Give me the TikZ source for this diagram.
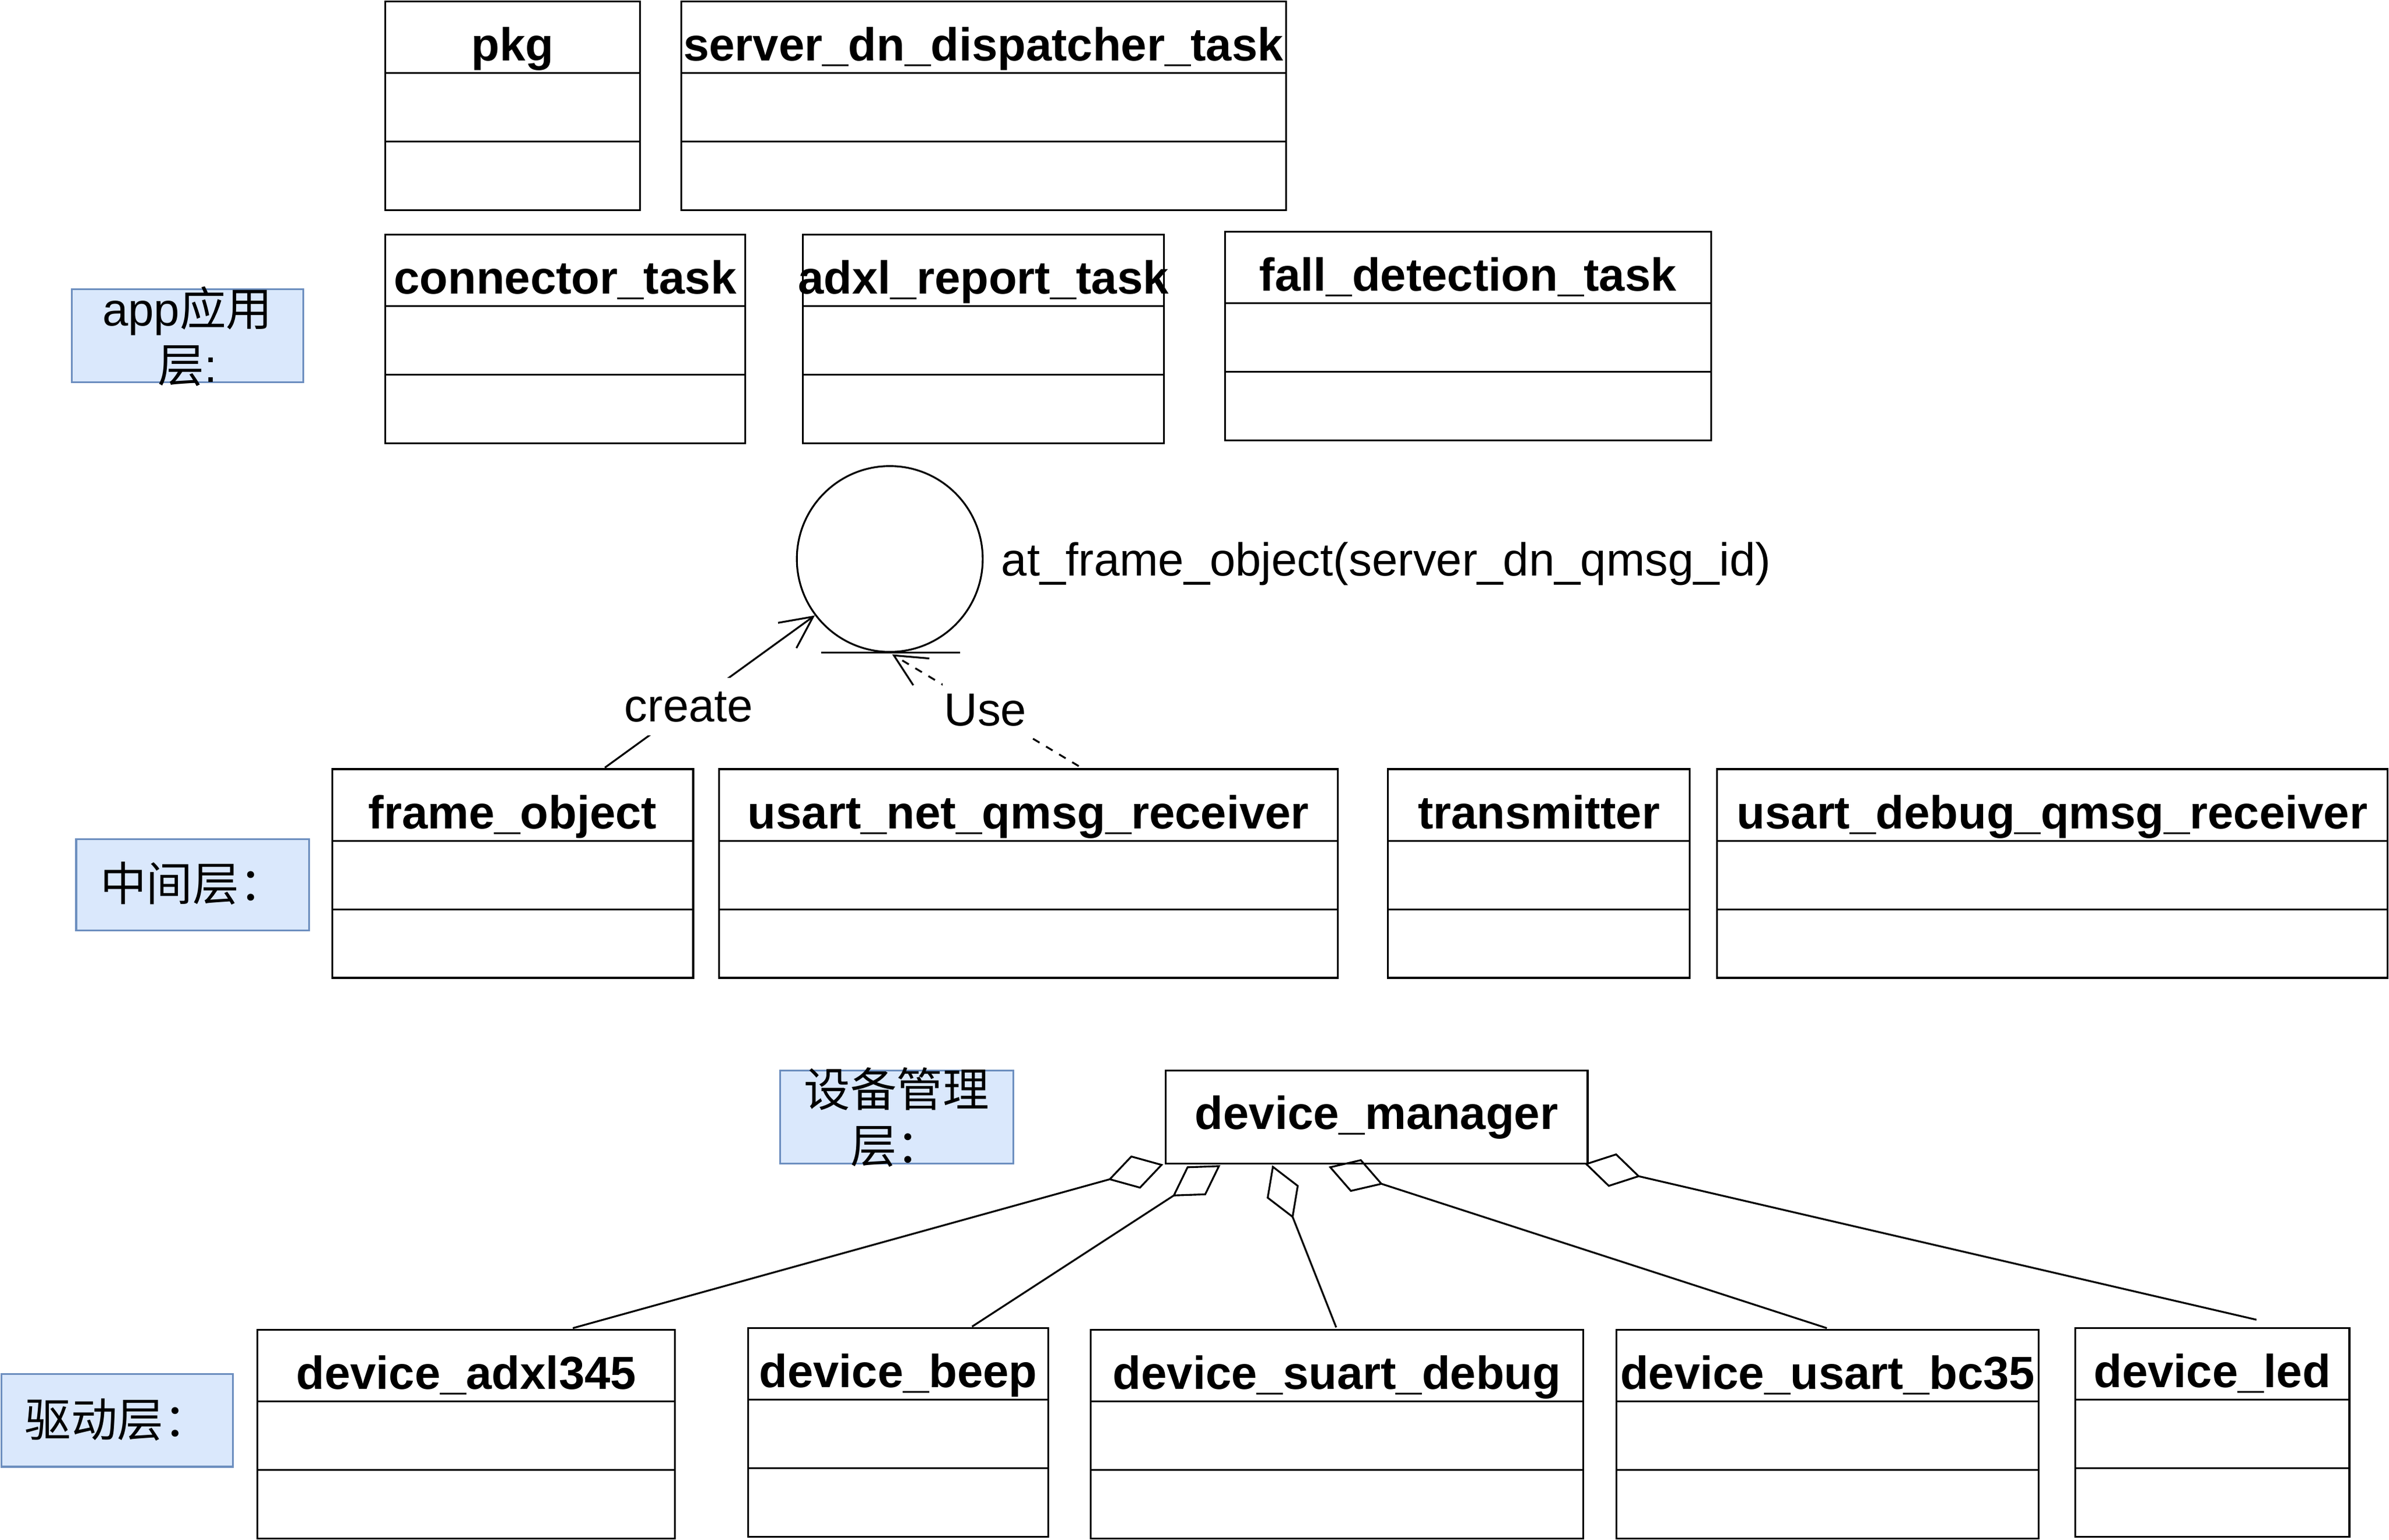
\documentclass[tikz,border=0pt]{standalone}
\usepackage{fontspec}
\setmainfont{Liberation Sans}
\newfontfamily\cjk{Noto Sans CJK SC}
\usetikzlibrary{arrows.meta,calc}
\definecolor{layerdraw}{HTML}{6C8EBF}
\definecolor{layerfill}{HTML}{DAE8FC}
\newcommand\umlclass[6]{%
  \node[cls, minimum width={(#4-#2)*1pt}, minimum height={(#5-#3)*1pt}] (#1) at (#2,#3) {};
  \draw[divider] ($(#1.north west)+(0,47)$) -- ($(#1.north east)+(0,47)$);
  \draw[divider] ($(#1.north west)+(0,92)$) -- ($(#1.north east)+(0,92)$);
  \node[hdr] (#1-t) at ($(#1.north)+(0,39)$) {#6};
}
\begin{document}
\begin{tikzpicture}[x=1pt,y=-1pt,
  cls/.style={draw, line width=1.2pt, rectangle, inner sep=0pt, outer sep=0pt, anchor=north west},
  divider/.style={line width=1.2pt},
  hdr/.style={font=\fontsize{30.4}{36}\selectfont\bfseries, inner sep=0pt, anchor=base},
  txt/.style={font=\fontsize{30.4}{36}\selectfont, inner sep=0pt},
  cjktxt/.style={font=\cjk\fontsize{30.4}{37}\selectfont, inner sep=0pt, anchor=base},
  layer/.style={draw=layerdraw, fill=layerfill, line width=1.2pt, rectangle, inner sep=0pt, outer sep=0pt, anchor=north west},
  edge/.style={line width=1.2pt},
  edgelbl/.style={txt, fill=white, minimum height=38pt, inner xsep=1pt},
  openhead/.style={-{Straight Barb[length=21pt,width=20.5pt]}},
  agg/.style={line width=1.2pt, -{Diamond[open,length=37.6pt,width=22.6pt]}}
  ]
\useasboundingbox (0,0) rectangle (1568,1011);

% app layer
\umlclass{pkg}{253}{1}{420}{138}{pkg}
\umlclass{sddt}{447}{1}{844}{138}{server\_dn\_dispatcher\_task}
\umlclass{conn}{253}{154}{489}{291}{connector\_task}
\umlclass{adxlrep}{527}{154}{764}{291}{adxl\_report\_task}
\umlclass{fall}{804}{152}{1123}{289}{fall\_detection\_task}

\node[layer, minimum width=152pt, minimum height=61pt] (lapp) at (47,190) {};
\node[txt, anchor=base] at ($(lapp.north)+(0,24)$) {app{\cjk 应用}};
\node[txt, anchor=base] at ($(lapp.north)+(0,61)$) {{\cjk 层}:};

% object
\node[draw, circle, line width=1.2pt, minimum size=122pt, inner sep=0pt] (obj) at (584,367) {};
\draw[edge] ($(obj.south)+(-45,0)$) -- ($(obj.south)+(46,0)$);
\node[txt, anchor=base west] (objl) at (657,378) {at\_frame\_object(server\_dn\_qmsg\_id)};

% middle layer
\umlclass{frame}{218}{505}{455}{642}{frame\_object}
\umlclass{unet}{472}{505}{878}{642}{usart\_net\_qmsg\_receiver}
\umlclass{trans}{911}{505}{1109}{642}{transmitter}
\umlclass{udebug}{1127}{505}{1567}{642}{usart\_debug\_qmsg\_receiver}

\node[layer, minimum width=153pt, minimum height=60pt] (lmid) at (50,551) {};
\node[cjktxt] at ($(lmid.north)+(0,40.5)$) {中间层：};

\draw[edge, openhead] ($(frame.north)+(60.5,-1)$) -- node[edgelbl, pos=0.4] {create} (obj.217);
\draw[edge, dash pattern=on 5pt off 5pt, openhead] ($(unet.north)+(33,-2)$) -- node[edgelbl, pos=0.5] {Use} ($(obj.south)+(1.5,1)$);

% device manager
\node[layer, minimum width=153pt, minimum height=61pt] (ldm) at (512,703) {};
\node[cjktxt] at ($(ldm.north)+(0,23.5)$) {设备管理};
\node[cjktxt] at ($(ldm.north)+(0,60.5)$) {层：};

\node[cls, minimum width=277pt, minimum height=61pt, font=\fontsize{30.4}{36}\selectfont\bfseries] (dm) at (765,703) {device\_manager};

% driver layer
\umlclass{adxl}{169}{873}{443}{1010}{device\_adxl345}
\umlclass{beep}{491}{872}{688}{1009}{device\_beep}
\umlclass{suart}{716}{873}{1039}{1010}{device\_suart\_debug}
\umlclass{bc35}{1061}{873}{1338}{1010}{device\_usart\_bc35}
\umlclass{led}{1362}{872}{1542}{1009}{device\_led}

\node[layer, minimum width=152pt, minimum height=61pt] (ldrv) at (1,902) {};
\node[cjktxt] at ($(ldrv.north)+(0,41.5)$) {驱动层：};

% aggregations
\draw[agg] ($(adxl.north west)+(207,-1)$) -- ($(dm.south west)+(-1.5,0.5)$);
\draw[agg] ($(beep.north west)+(147,-1)$) -- ($(dm.south west)+(36,1)$);
\draw[agg] ($(suart.north west)+(161,-1.5)$) -- ($(dm.south west)+(70,1)$);
\draw[agg] ($(bc35.north west)+(138,-1)$) -- ($(dm.south west)+(107,2)$);
\draw[agg] ($(led.north west)+(119,-5.5)$) -- ($(dm.south east)+(-2,0)$);
\end{tikzpicture}
\end{document}
